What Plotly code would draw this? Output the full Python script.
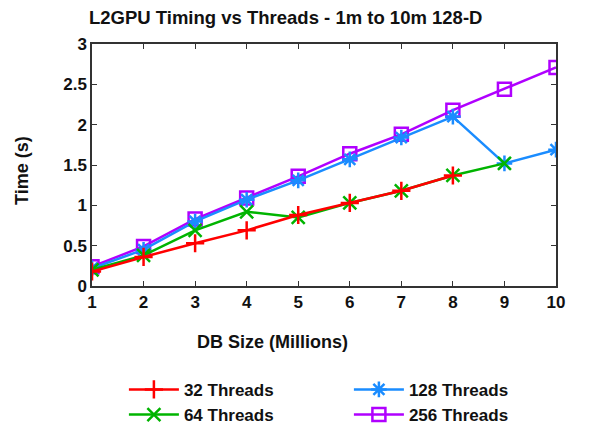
import plotly.graph_objects as go

db_size = [1, 2, 3, 4, 5, 6, 7, 8, 9, 10]

t32 = [0.18, 0.36, 0.53, 0.69, 0.88, 1.03, 1.18, 1.37]
t64 = [0.20, 0.38, 0.69, 0.92, 0.85, 1.03, 1.18, 1.37, 1.52]
t128 = [0.22, 0.45, 0.80, 1.07, 1.31, 1.57, 1.84, 2.10, 1.52, 1.69]
t256 = [0.24, 0.49, 0.83, 1.09, 1.36, 1.64, 1.88, 2.18, 2.44, 2.71]

series = [
    ("32 Threads", t32, "#ff0000", "cross-thin-open", 1),
    ("128 Threads", t128, "#1a8cff", "asterisk-open", 2),
    ("64 Threads", t64, "#00b400", "x-thin-open", 3),
    ("256 Threads", t256, "#b000ff", "square-open", 4),
]

FONT = "Liberation Sans, Arial, sans-serif"

fig = go.Figure()
for idx in [3, 1, 2, 0]:
    name, vals, col, sym, rank = series[idx]
    fig.add_trace(go.Scatter(
        x=db_size[:len(vals)], y=vals, name=name, mode="lines+markers",
        line=dict(color=col, width=2.5),
        marker=dict(symbol=sym, size=13, color=col, line=dict(color=col, width=2.5)),
        legendrank=rank,
    ))

axis_common = dict(
    showline=True, linecolor="#333333", linewidth=1.5, mirror="ticks",
    ticks="inside", ticklen=5, tickcolor="#333333", showgrid=False, zeroline=False,
    tickfont=dict(family=FONT, size=17, color="#111111", weight="bold"),
)

fig.update_xaxes(range=[1, 10], tickvals=db_size, **axis_common)
fig.update_yaxes(range=[0, 3], tickvals=[0, 0.5, 1, 1.5, 2, 2.5, 3],
                 ticktext=["0", "0.5", "1", "1.5", "2", "2.5", "3"], **axis_common)

fig.update_layout(
    width=590, height=425,
    margin=dict(l=92, r=34, t=44, b=139, autoexpand=False),
    plot_bgcolor="white", paper_bgcolor="white",
    font=dict(family=FONT, size=17, color="#111111", weight="bold"),
    showlegend=True,
    legend=dict(
        orientation="h", xref="container", yref="container",
        x=0.21, xanchor="left", y=0.125, yanchor="top",
        entrywidth=160, entrywidthmode="pixels", itemwidth=50,
        font=dict(family=FONT, size=17, color="#111111", weight="bold"),
        bgcolor="rgba(0,0,0,0)", traceorder="normal",
    ),
    annotations=[
        dict(text="L2GPU Timing vs Threads - 1m to 10m 128-D", xref="paper", yref="paper",
             x=0.416, y=1.111, showarrow=False, xanchor="center", yanchor="middle",
             font=dict(family=FONT, size=18.5, color="#111111", weight="bold")),
        dict(text="DB Size (Millions)", xref="paper", yref="paper",
             x=0.388, y=-0.231, showarrow=False, xanchor="center", yanchor="middle",
             font=dict(family=FONT, size=18, color="#111111", weight="bold")),
        dict(text="Time (s)", xref="paper", yref="paper", textangle=-90,
             x=-0.151, y=0.479, showarrow=False, xanchor="center", yanchor="middle",
             font=dict(family=FONT, size=18, color="#111111", weight="bold")),
    ],
)

fig.write_html("out.html")
